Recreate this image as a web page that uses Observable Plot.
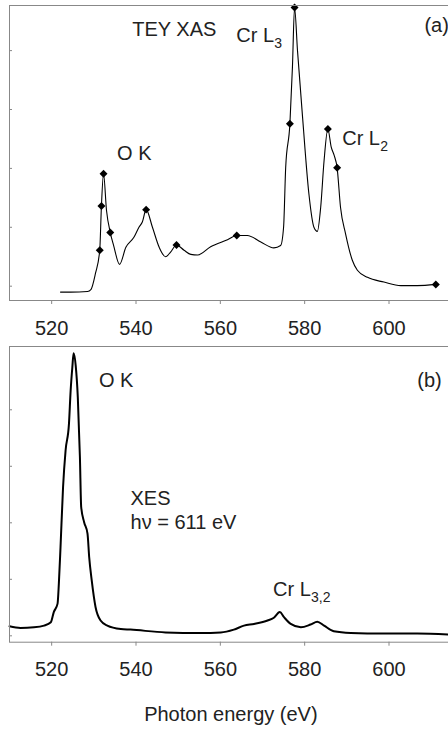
<!DOCTYPE html>
<html><head><meta charset="utf-8">
<script src="https://cdn.jsdelivr.net/npm/d3@7"></script>
<script src="https://cdn.jsdelivr.net/npm/@observablehq/plot@0.6"></script>
<style>
html,body{margin:0;padding:0;overflow:hidden;background:#fff;width:448px;height:729px}
#chart svg{display:block;max-width:none}
</style></head><body><div id="chart"></div>
<script>
// (a) TEY XAS spectrum
const xasEnergy = [522.1, 524.5, 528.5, 529.3, 530.4, 531.4, 531.8, 532.3, 533.0, 533.9, 534.7, 536.1, 537.6, 539.5, 540.7, 541.5, 542.4, 543.9, 545.5, 547.0, 548.2, 549.6, 551.4, 553.0, 554.6, 557.7, 561.7, 563.9, 566.4, 569.6, 572.7, 574.3, 575.0, 575.5, 576.5, 577.1, 577.6, 578.3, 579.5, 581.0, 582.2, 583.0, 583.8, 584.6, 585.5, 586.3, 587.0, 587.7, 588.5, 589.7, 591.3, 592.5, 594.9, 598.8, 602.8, 606.7, 611.1];
const xasIntensity = [-0.10, -0.10, -0.09, -0.06, 0.22, 0.61, 1.36, 1.91, 1.29, 0.91, 0.69, 0.37, 0.66, 0.83, 1.00, 1.09, 1.30, 1.00, 0.66, 0.50, 0.58, 0.70, 0.61, 0.54, 0.53, 0.67, 0.79, 0.86, 0.86, 0.75, 0.65, 0.69, 1.00, 2.02, 2.76, 3.72, 4.73, 4.00, 2.87, 1.57, 1.00, 0.93, 1.34, 2.13, 2.67, 2.36, 2.22, 2.01, 1.34, 0.89, 0.44, 0.27, 0.15, 0.07, 0.01, 0.01, 0.03];
const xasMarkerEnergy = [531.4, 531.8, 532.3, 533.9, 542.4, 549.6, 563.9, 576.5, 577.6, 585.5, 587.7, 611.1];

// (b) XES spectrum
const xesEnergy = [510.0, 512.6, 515.8, 518.2, 519.8, 520.5, 521.4, 521.7, 522.1, 522.7, 523.3, 524.1, 524.5, 524.9, 525.2, 525.7, 526.2, 526.7, 527.0, 527.7, 528.5, 528.9, 529.5, 530.4, 531.6, 533.2, 536.4, 538.7, 547.0, 555.3, 560.1, 563.2, 565.6, 568.0, 571.2, 572.7, 574.1, 575.1, 576.7, 579.1, 581.4, 583.0, 584.6, 586.9, 590.9, 598.8, 606.7, 615.0];
const xesIntensity = [0.17, 0.14, 0.15, 0.18, 0.24, 0.42, 0.57, 0.92, 1.57, 2.63, 3.28, 3.75, 4.34, 4.75, 5.00, 4.78, 4.22, 3.16, 2.28, 2.01, 1.81, 1.39, 0.98, 0.51, 0.27, 0.18, 0.12, 0.11, 0.06, 0.05, 0.06, 0.11, 0.18, 0.21, 0.27, 0.32, 0.42, 0.33, 0.21, 0.15, 0.20, 0.25, 0.18, 0.08, 0.05, 0.04, 0.04, 0.02];

// axes
const xTicks = [520, 540, 560, 580, 600];
const xasYTicks = [0, 1, 2, 3, 4];
const xesYTicks = [0, 1, 2, 3, 4];
const xTitle = "Photon energy (eV)";

// annotations (text, anchor energy, anchor intensity, optional subscript)
const xasLabelText = ["TEY XAS", "Cr L", "(a)", "O K", "Cr L"];
const xasLabelSub  = ["", "3", "", "", "2"];
const xasLabelE    = [539.1, 563.8, 608.4, 535.5, 588.9];
const xasLabelI    = [4.24, 4.14, 4.31, 2.15, 2.40];
const xesLabelText = ["O K", "(b)", "XES", "hν = 611 eV", "Cr L"];
const xesLabelSub  = ["", "", "", "", "3,2"];
const xesLabelE    = [531.2, 606.7, 538.7, 538.7, 572.5];
const xesLabelI    = [4.41, 4.41, 2.32, 1.89, 0.71];

const FONT = "'Liberation Sans', Arial, Helvetica, sans-serif";
const zip = (e, v) => e.map((x, i) => ({x, y: v[i]}));
const labels = (t, s, e, v) => t.map((text, i) => ({text, sub: s[i], x: e[i], y: v[i]}));

function panel({data, markers, yDomain, yTicks, height, marginTop, marginBottom, strokeWidth, notes, title}) {
  return Plot.plot({
    width: 460, height, marginLeft: 9, marginRight: 8.25, marginTop, marginBottom,
    style: {fontFamily: FONT, fontSize: "20px", color: "#222", background: "white", maxWidth: "none"},
    x: {domain: [510, 615]},
    y: {domain: yDomain},
    marks: [
      Plot.axisY({ticks: yTicks, tickSize: 3, dx: 3, stroke: "#888", tickFormat: () => "", label: null}),
      Plot.axisX({ticks: xTicks, tickSize: 4, tickPadding: 16, stroke: "#888", label: null, fontSize: 20}),
      Plot.line(data, {x: "x", y: "y", curve: "monotone-x", stroke: "#000", strokeWidth}),
      markers ? Plot.dot(markers, {x: "x", y: "y", symbol: "diamond2", r: 3.6, fill: "#000", stroke: "none"}) : null,
      Plot.text(notes, {x: "x", y: "y", text: "text", textAnchor: "start", lineAnchor: "bottom", fontSize: 20, fill: "#222"}),
      Plot.text(notes.filter(d => d.sub), {x: "x", y: "y", text: "sub", textAnchor: "start", lineAnchor: "bottom", dx: 38, dy: 6, fontSize: 14, fill: "#222"}),
      title ? Plot.text([title], {frameAnchor: "bottom", text: d => d, lineAnchor: "bottom", dy: 79, fontSize: 20, fill: "#222"}) : null,
      Plot.frame({stroke: "#888"})
    ]
  });
}

const xasData = zip(xasEnergy, xasIntensity);
const xasMarkers = xasData.filter(d => xasMarkerEnergy.includes(d.x));
const xesData = zip(xesEnergy, xesIntensity);

const panelA = panel({
  data: xasData, markers: xasMarkers, yDomain: [-0.243, 4.766], yTicks: xasYTicks,
  height: 340, marginTop: 5, marginBottom: 40, strokeWidth: 1.1,
  notes: labels(xasLabelText, xasLabelSub, xasLabelE, xasLabelI)
});
const panelB = panel({
  data: xesData, markers: null, yDomain: [-0.113, 5.12], yTicks: xesYTicks,
  height: 389, marginTop: 6, marginBottom: 87.3, strokeWidth: 2,
  notes: labels(xesLabelText, xesLabelSub, xesLabelE, xesLabelI), title: xTitle
});
const chartDiv = document.getElementById("chart");
chartDiv.appendChild(panelA);
chartDiv.appendChild(panelB);
</script></body></html>
